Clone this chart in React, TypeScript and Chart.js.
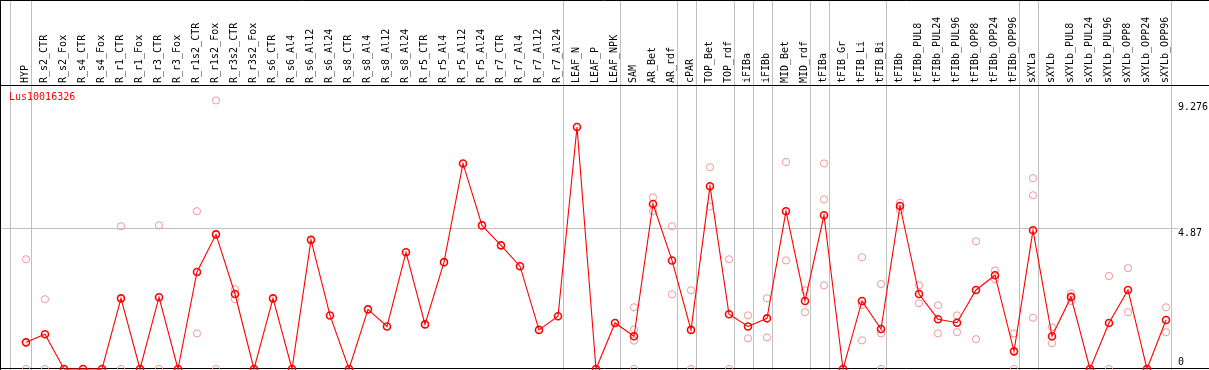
import React, { useEffect, useRef } from "react";
import { Chart, registerables } from "chart.js";

Chart.register(...registerables);

const title = "Lus10016326";

const categories = [
  "HYP", "R_s2_CTR", "R_s2_Fox", "R_s4_CTR", "R_s4_Fox", "R_r1_CTR", "R_r1_Fox", "R_r3_CTR", "R_r3_Fox",
  "R_r1s2_CTR", "R_r1s2_Fox", "R_r3s2_CTR", "R_r3s2_Fox", "R_s6_CTR", "R_s6_Al4", "R_s6_Al12", "R_s6_Al24",
  "R_s8_CTR", "R_s8_Al4", "R_s8_Al12", "R_s8_Al24", "R_r5_CTR", "R_r5_Al4", "R_r5_Al12", "R_r5_Al24",
  "R_r7_CTR", "R_r7_Al4", "R_r7_Al12", "R_r7_Al24", "LEAF_N", "LEAF_P", "LEAF_NPK", "SAM", "AR_Bet", "AR_rdf",
  "cPAR", "TOP_Bet", "TOP_rdf", "iFIBa", "iFIBb", "MID_Bet", "MID_rdf", "tFIBa", "tFIB_Gr", "tFIB_Li", "tFIB_Bi",
  "tFIBb", "tFIBb_PUL8", "tFIBb_PUL24", "tFIBb_PUL96", "tFIBb_OPP8", "tFIBb_OPP24", "tFIBb_OPP96", "sXYLa",
  "sXYLb", "sXYLb_PUL8", "sXYLb_PUL24", "sXYLb_PUL96", "sXYLb_OPP8", "sXYLb_OPP24", "sXYLb_OPP96",
];

const meanValues = [
  0.92, 1.2, 0, 0, 0, 2.44, 0, 2.48, 0, 3.35, 4.65, 2.59, 0, 2.44, 0, 4.46, 1.85, 0, 2.06, 1.47, 4.03, 1.54,
  3.69, 7.1, 4.96, 4.27, 3.55, 1.35, 1.82, 8.36, 0, 1.59, 1.13, 5.7, 3.75, 1.35, 6.31, 1.89, 1.47, 1.75, 5.45,
  2.35, 5.31, 0, 2.35, 1.38, 5.63, 2.59, 1.72, 1.6, 2.73, 3.24, 0.61, 4.79, 1.13, 2.49, 0, 1.59, 2.73, 0, 1.69,
];

const N = null;
const rep1 = [
  3.79, 2.41, N, N, N, 4.93, N, 4.96, N, 5.45, 9.276, 2.75, N, N, N, N, N, N, N, N, N, N,
  N, N, N, N, N, N, N, N, N, N, 2.13, 5.93, 4.93, 2.72, 6.97, 3.79, 1.85, 2.44, 7.15,
  2.72, 7.1, N, 3.86, 2.93, 5.74, 2.89, 2.2, 1.85, 4.41, 3.4, 1.23, 6.59, 1.44, 2.61, N, 3.21, 3.48, N, 2.13,
];
const rep2 = [
  0, 0, N, N, N, 0, N, 0, N, 1.23, 0, 2.41, N, N, N, N, N, N, N, N, N, N,
  N, N, N, N, N, N, N, N, N, N, 1.37, 5.45, 2.58, 0, 5.61, 0, 1.06, 1.09, 3.75,
  1.96, 5.86, N, 2.2, 1.23, 5.49, 2.27, 1.23, 1.27, 1.03, 3.1, 0, 6.0, 0.89, 2.34, N, 0, 1.96, N, 1.27,
];
const rep3 = [
  N, N, N, N, N, N, N, N, N, N, N, N, N, N, N, N, N, N, N, N, N, N,
  N, N, N, N, N, N, N, N, N, N, 0.98, N, N, N, N, N, N, N, N,
  N, 2.89, N, 0.99, 0, N, N, N, N, N, N, N, 1.77, N, N, N, N, N, N, N,
];
const rep4 = [
  N, N, N, N, N, N, N, N, N, N, N, N, N, N, N, N, N, N, N, N, N, N,
  N, N, N, N, N, N, N, N, N, N, 0, N, N, N, N, N, N, N, N,
  N, N, N, N, N, N, N, N, N, N, N, N, N, N, N, N, N, N, N, N,
];

// index of the last category of each group (a grey separator follows it)
const groupEnds = [0, 28, 31, 34, 35, 37, 38, 39, 41, 42, 45, 52, 53, 60];
const yTicks = [0, 4.87, 9.276];
const yGrid = [4.87];

const FONT = "'DejaVu Sans Mono', monospace";
const RED = "#ff0000";
const PINK = "#f09898";
const GREY = "#c0c0c0";

const toPts = (arr: (number | null)[]) =>
  arr.map((v, i) => (v === null ? null : { x: i, y: v })).filter((p) => p !== null) as { x: number; y: number }[];

export default function App() {
  const ref = useRef<HTMLCanvasElement | null>(null);

  useEffect(() => {
    if (!ref.current) return;

    const decor = {
      id: "decor",
      beforeDraw(chart: any) {
        const { ctx, width, height } = chart;
        ctx.save();
        ctx.fillStyle = "#fff";
        ctx.fillRect(0, 0, width, height);
        ctx.restore();
      },
      beforeDatasetsDraw(chart: any) {
        const { ctx, width, height, scales } = chart;
        const xs = scales.x;
        const ys = scales.y;
        ctx.save();
        ctx.strokeStyle = GREY;
        ctx.lineWidth = 1;
        const seps = [-0.84, ...groupEnds.map((g) => g + 0.24)];
        seps.forEach((s) => {
          const x = Math.round(xs.getPixelForValue(s)) + 0.5;
          ctx.beginPath();
          ctx.moveTo(x, 0);
          ctx.lineTo(x, height);
          ctx.stroke();
        });
        yGrid.forEach((v) => {
          const y = Math.round(ys.getPixelForValue(v)) + 0.5;
          ctx.beginPath();
          ctx.moveTo(0, y);
          ctx.lineTo(chart.chartArea.right + 8, y);
          ctx.stroke();
        });
        ctx.strokeStyle = "#000";
        const hl = (y: number) => {
          ctx.beginPath();
          ctx.moveTo(0, y);
          ctx.lineTo(width, y);
          ctx.stroke();
        };
        hl(0.5);
        hl(Math.round(chart.chartArea.top) + 0.5);
        hl(Math.round(ys.getPixelForValue(0)) - 0.5);
        ctx.beginPath();
        ctx.moveTo(0.5, 0);
        ctx.lineTo(0.5, height);
        ctx.stroke();
        ctx.restore();
      },
      afterDraw(chart: any) {
        const { ctx, scales, chartArea } = chart;
        const ys = scales.y;
        ctx.save();
        ctx.font = `10px ${FONT}`;
        ctx.fillStyle = RED;
        ctx.textAlign = "left";
        ctx.textBaseline = "middle";
        ctx.fillText(title, 9, chartArea.top + 12.5);
        ctx.fillStyle = "#000";
        yTicks.forEach((v, i) => {
          const y = ys.getPixelForValue(v);
          if (i === 0) {
            ctx.textBaseline = "bottom";
            ctx.fillText(String(v), chartArea.right + 8, y - 2);
          } else if (i === yTicks.length - 1) {
            ctx.textBaseline = "top";
            ctx.fillText(String(v), chartArea.right + 8, y + 2);
          } else {
            ctx.textBaseline = "top";
            ctx.fillText(String(v), chartArea.right + 8, y);
          }
        });
        ctx.restore();
      },
    };

    const repSets = [rep1, rep2, rep3, rep4].map((r) => ({
      type: "line" as const,
      data: toPts(r),
      showLine: false,
      pointStyle: "circle" as const,
      pointRadius: 3.6,
      pointBorderWidth: 1,
      pointBorderColor: PINK,
      pointBackgroundColor: "rgba(0,0,0,0)",
      order: 2,
      clip: false as any,
    }));

    const chart = new Chart(ref.current, {
      type: "line",
      data: {
        datasets: [
          ...repSets,
          {
            data: meanValues.map((v, i) => ({ x: i, y: v })),
            borderColor: RED,
            borderWidth: 1.1,
            pointStyle: "circle",
            pointRadius: 3.5,
            pointBorderWidth: 1.6,
            pointBorderColor: RED,
            pointBackgroundColor: "rgba(0,0,0,0)",
            tension: 0,
            order: 1,
            clip: false as any,
          },
        ],
      },
      options: {
        animation: false,
        responsive: false,
        events: [],
        layout: { autoPadding: false, padding: { left: 0, right: 39, top: 0, bottom: 1 } },
        plugins: { legend: { display: false }, tooltip: { enabled: false }, title: { display: false } },
        scales: {
          x: {
            type: "linear",
            position: "top",
            // chart area spans x = 0 .. 1170 px; categories sit 19 px apart starting at x = 26
            min: -26 / 19,
            max: (1170 - 26) / 19,
            afterBuildTicks: (s: any) => {
              s.ticks = categories.map((_, i) => ({ value: i }));
            },
            afterFit: (s: any) => {
              s.height = 85;
              s.paddingLeft = 0;
              s.paddingRight = 0;
            },
            grid: { display: false, drawTicks: false },
            border: { display: false },
            ticks: {
              autoSkip: false,
              minRotation: 90,
              maxRotation: 90,
              padding: 2,
              labelOffset: 11,
              color: "#000",
              font: { family: FONT, size: 10 },
              callback: (_v: any, idx: number) => categories[idx],
            },
          },
          y: {
            type: "linear",
            display: false,
            min: 0,
            max: 9.809,
          },
        },
      },
      plugins: [decor],
    });
    return () => chart.destroy();
  }, []);

  return (
    <div style={{ position: "absolute", left: 0, top: 0, width: 1209, height: 370 }}>
      <canvas ref={ref} width={1209} height={370} style={{ display: "block" }} />
    </div>
  );
}
